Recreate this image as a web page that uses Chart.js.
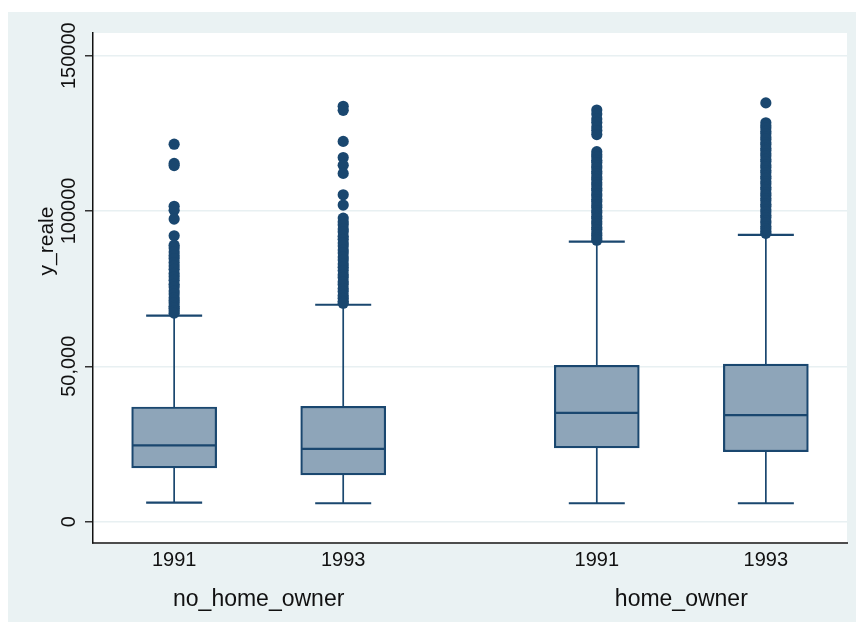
<!DOCTYPE html>
<html>
<head>
<meta charset="utf-8">
<title>y_reale by year and home ownership</title>
<script src="https://cdn.jsdelivr.net/npm/chart.js@4.4.1/dist/chart.umd.min.js"></script>
<style>
  html, body { margin: 0; padding: 0; background: #ffffff; }
  #wrap { width: 856px; height: 630px; position: relative; }
</style>
</head>
<body>
<div id="wrap"><canvas id="c"></canvas></div>
<script>
// ---- data -------------------------------------------------------------
const groupLabels = ['no_home_owner', 'home_owner'];
const yearLabels  = ['1991', '1993', '1991', '1993'];
const boxX        = [1, 2, 3.5, 4.5];            // slot of each box on the x scale
const groupOfBox  = [0, 0, 1, 1];

const lowerAdjacent = [6100, 5900, 5900, 5900];
const quartile1     = [17300, 15000, 23700, 22500];
const medianValue   = [24500, 23400, 35000, 34300];
const quartile3     = [36900, 37100, 50300, 50700];
const upperAdjacent = [66300, 69800, 90100, 92300];

const outliersNoOwner1991 = [121500, 115300, 114600, 101500, 100200, 97400, 92000, 89000, 88100,
  86800, 85700, 84700, 83400, 82300, 81200, 79900, 78800, 77700, 76400, 75500, 74200, 73300,
  72100, 71200, 70400, 69300, 68700, 67900, 67100];
const outliersNoOwner1993 = [133700, 132400, 122400, 117200, 114700, 112100, 105200, 101900,
  97700, 96500, 95600, 94200, 93300, 91900, 90900, 89700, 88700, 87400, 86500, 85200, 84200,
  82900, 81900, 80800, 79500, 78600, 77200, 76300, 75000, 74100, 72800, 71900, 70900, 70300];
const outliersOwner1991 = [132500, 131200, 129600, 128500, 127000, 125900, 124600, 119100,
  118100, 117400, 116300, 115600, 114500, 113800, 112700, 112000, 110900, 110200, 109100,
  108400, 107300, 106600, 105500, 104800, 103700, 103000, 101900, 101200, 100100, 99400,
  98300, 97600, 96500, 95800, 94700, 94000, 92900, 92200, 91300, 90600];
const outliersOwner1993 = [134800, 128400, 127400, 126700, 125600, 124900, 123800, 123100,
  122000, 121300, 120200, 119500, 118400, 117700, 116600, 115900, 114800, 114100, 113000,
  112300, 111200, 110500, 109400, 108700, 107600, 106900, 105800, 105100, 104000, 103300,
  102200, 101500, 100400, 99700, 98600, 97900, 96800, 96100, 95000, 94300, 93400, 92800];
const outliersByBox = [outliersNoOwner1991, outliersNoOwner1993, outliersOwner1991, outliersOwner1993];

const yTickValues = [0, 50000, 100000, 150000];
const yTickLabels = ['0', '50,000', '100000', '150000'];
const yTitle = 'y_reale';

// ---- styling ----------------------------------------------------------
const FONT = "'Liberation Sans', Arial, Helvetica, sans-serif";
const NAVY = '#1A476F';
const BOX_FILL = '#8EA5B9';
const REGION_BG = '#EAF2F3';
const TEXT = '#111111';
const BOX_WIDTH = 85;
const CAP_HALF = 28;

// Floating bars span the interquartile range of each box.
const boxData = boxX.map((x, i) => ({ x: x, y: [quartile1[i], quartile3[i]] }));
const outlierData = [];
outliersByBox.forEach((list, i) => list.forEach(v => outlierData.push({ x: boxX[i], y: v })));

// Graph region, whiskers, medians and the text around the plot.
const boxPlotParts = {
  id: 'boxPlotParts',
  beforeDraw(chart) {
    const { ctx, chartArea: a } = chart;
    ctx.save();
    ctx.fillStyle = '#ffffff';
    ctx.fillRect(0, 0, chart.width, chart.height);
    ctx.fillStyle = REGION_BG;
    ctx.fillRect(8, 12, chart.width - 8, 610);
    ctx.fillStyle = '#ffffff';
    ctx.fillRect(a.left, a.top, a.right - a.left, a.bottom - a.top);
    ctx.restore();
  },
  beforeDatasetsDraw(chart) {
    const { ctx } = chart;
    const xs = chart.scales.x, ys = chart.scales.y;
    ctx.save();
    ctx.strokeStyle = NAVY;
    boxX.forEach((v, i) => {
      const x = xs.getPixelForValue(v);
      const yUp = ys.getPixelForValue(upperAdjacent[i]);
      const yQ3 = ys.getPixelForValue(quartile3[i]);
      const yQ1 = ys.getPixelForValue(quartile1[i]);
      const yLo = ys.getPixelForValue(lowerAdjacent[i]);
      ctx.lineWidth = 1.7;
      ctx.beginPath();
      ctx.moveTo(x, yQ3); ctx.lineTo(x, yUp);
      ctx.moveTo(x, yQ1); ctx.lineTo(x, yLo);
      ctx.stroke();
      ctx.lineWidth = 2.2;
      ctx.beginPath();
      ctx.moveTo(x - CAP_HALF, yUp); ctx.lineTo(x + CAP_HALF, yUp);
      ctx.moveTo(x - CAP_HALF, yLo); ctx.lineTo(x + CAP_HALF, yLo);
      ctx.stroke();
    });
    ctx.restore();
  },
  afterDatasetsDraw(chart) {
    const { ctx } = chart;
    const xs = chart.scales.x, ys = chart.scales.y;
    ctx.save();
    ctx.strokeStyle = NAVY;
    ctx.lineWidth = 2.2;
    boxX.forEach((v, i) => {
      const x = xs.getPixelForValue(v);
      const y = ys.getPixelForValue(medianValue[i]);
      ctx.beginPath();
      ctx.moveTo(x - BOX_WIDTH / 2 + 1, y); ctx.lineTo(x + BOX_WIDTH / 2 - 1, y);
      ctx.stroke();
    });
    ctx.restore();
  },
  afterDraw(chart) {
    const { ctx } = chart;
    const xs = chart.scales.x, ys = chart.scales.y;
    ctx.save();
    ctx.fillStyle = TEXT;
    ctx.textAlign = 'center';
    ctx.textBaseline = 'alphabetic';
    // rotated y tick labels
    ctx.font = '20px ' + FONT;
    yTickValues.forEach((v, i) => {
      ctx.save();
      ctx.translate(75, ys.getPixelForValue(v));
      ctx.rotate(-Math.PI / 2);
      ctx.fillText(yTickLabels[i], 0, 0);
      ctx.restore();
    });
    // y axis title
    ctx.font = '21px ' + FONT;
    ctx.save();
    ctx.translate(53, 241);
    ctx.rotate(-Math.PI / 2);
    ctx.fillText(yTitle, 0, 0);
    ctx.restore();
    // group labels under the year ticks
    ctx.font = '23px ' + FONT;
    groupLabels.forEach((g, gi) => {
      const members = boxX.filter((_, i) => groupOfBox[i] === gi);
      const mid = (xs.getPixelForValue(members[0]) + xs.getPixelForValue(members[members.length - 1])) / 2;
      ctx.fillText(g, mid, 606);
    });
    ctx.restore();
  }
};

new Chart(document.getElementById('c'), {
  type: 'bar',
  data: {
    datasets: [
      {
        type: 'bar',
        data: boxData,
        backgroundColor: BOX_FILL,
        borderColor: NAVY,
        borderWidth: 2.2,
        borderSkipped: false,
        barThickness: BOX_WIDTH,
        grouped: false,
        order: 2
      },
      {
        type: 'scatter',
        data: outlierData,
        pointRadius: 5.6,
        pointHoverRadius: 5.6,
        pointBackgroundColor: NAVY,
        pointBorderWidth: 0,
        order: 1
      }
    ]
  },
  options: {
    responsive: true,
    maintainAspectRatio: false,
    animation: false,
    devicePixelRatio: 1,
    events: [],
    layout: { padding: { top: 33, right: 9, left: 0, bottom: 0 } },
    plugins: { legend: { display: false }, tooltip: { enabled: false } },
    scales: {
      x: {
        type: 'linear',
        min: 0.52,
        max: 4.98,
        offset: false,
        grid: { display: false, drawTicks: false },
        border: { display: true, color: '#4d4d4d', width: 2 },
        afterBuildTicks: s => { s.ticks = boxX.map(v => ({ value: v })); },
        afterFit: s => { s.height = 87; },
        ticks: {
          autoSkip: false,
          maxRotation: 0,
          minRotation: 0,
          padding: 5,
          color: TEXT,
          font: { family: FONT, size: 20 },
          callback: (v, i) => yearLabels[i]
        }
      },
      y: {
        type: 'linear',
        min: -6900,
        max: 157300,
        grid: { color: '#E8F0F2', lineWidth: 1.5, tickColor: '#333333', tickLength: 8, drawTicks: true },
        border: { display: true, color: '#111111', width: 1.5 },
        afterBuildTicks: s => { s.ticks = yTickValues.map(v => ({ value: v })); },
        afterFit: s => { s.width = 93; },
        ticks: { display: false }
      }
    }
  },
  plugins: [boxPlotParts]
});
</script>
</body>
</html>
